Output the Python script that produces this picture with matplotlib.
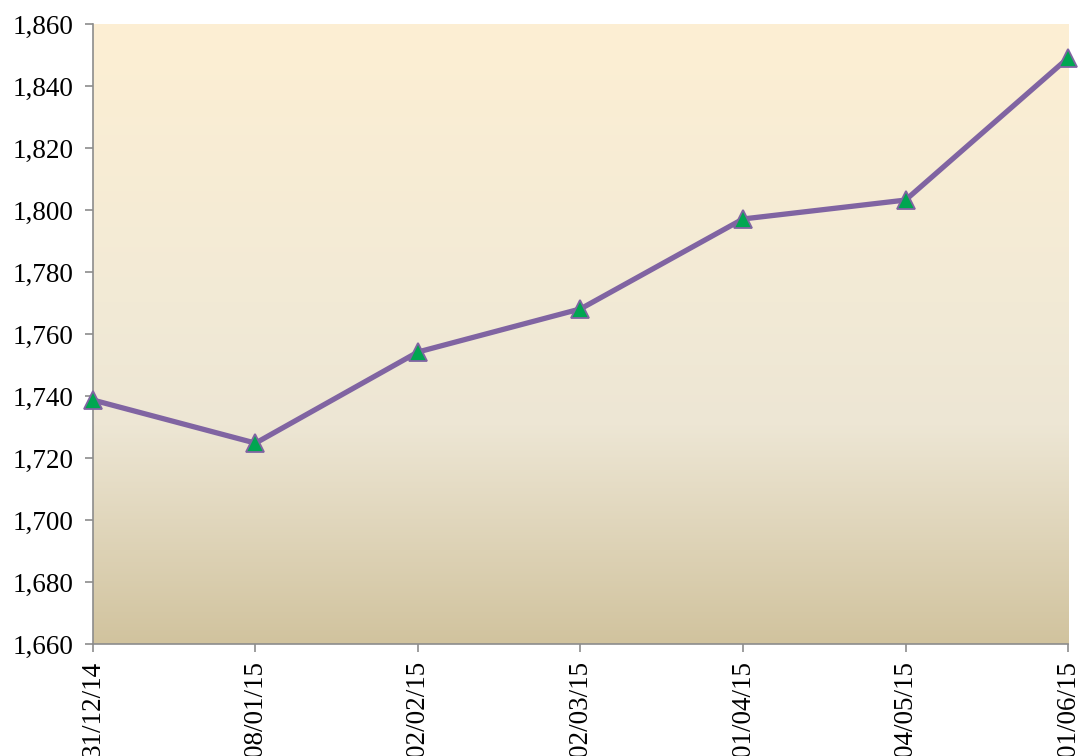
import matplotlib.pyplot as plt
import numpy as np
from matplotlib.colors import LinearSegmentedColormap

dates = ["31/12/14", "08/01/15", "02/02/15", "02/03/15", "01/04/15", "04/05/15", "01/06/15"]
values = [1738.7, 1724.8, 1754.2, 1768.1, 1797.1, 1803.2, 1849.0]
yticks = np.arange(1660, 1861, 20)

plt.rcParams['font.family'] = ['Liberation Serif', 'DejaVu Serif']

fig = plt.figure(figsize=(10.8, 7.56), dpi=100)
ax = fig.add_axes([0.0861, 0.1481, 0.9028, 0.8202])

x = np.arange(len(dates))
ax.set_xlim(0, len(dates) - 1)
ax.set_ylim(1660, 1860)

# background gradient, cream at top to tan at bottom
grad = LinearSegmentedColormap.from_list(
    "bg", [(0.0, "#d1c39e"), (0.35, "#ede6d4"), (0.55, "#f2ead6"), (1.0, "#fdefd3")])
ax.imshow(np.linspace(0, 1, 256).reshape(-1, 1), cmap=grad, aspect="auto",
          extent=[0, len(dates) - 1, 1660, 1860], origin="lower", zorder=0)

ax.plot(x, values, color="#8064a2", linewidth=3.8, zorder=2, clip_on=False)
ax.plot(x, values, linestyle="none", marker="^", markersize=13,
        markerfacecolor="#00a651", markeredgecolor="#8064a2", markeredgewidth=1.3,
        zorder=3, clip_on=False)

ax.set_xticks(x)
ax.set_xticklabels(dates, rotation=90, fontsize=19.5)
ax.set_yticks(yticks)
ax.set_yticklabels([f"{v:,}" for v in yticks], fontsize=19.5)

for side in ["top", "right"]:
    ax.spines[side].set_visible(False)
for side in ["left", "bottom"]:
    ax.spines[side].set_color("#8c8c8c")
    ax.spines[side].set_linewidth(1.2)
ax.tick_params(axis="both", colors="#8c8c8c", length=6, width=1.2, labelcolor="black")
ax.tick_params(axis="x", pad=6)
ax.tick_params(axis="y", pad=8)

plt.savefig("out.png", dpi=100)
